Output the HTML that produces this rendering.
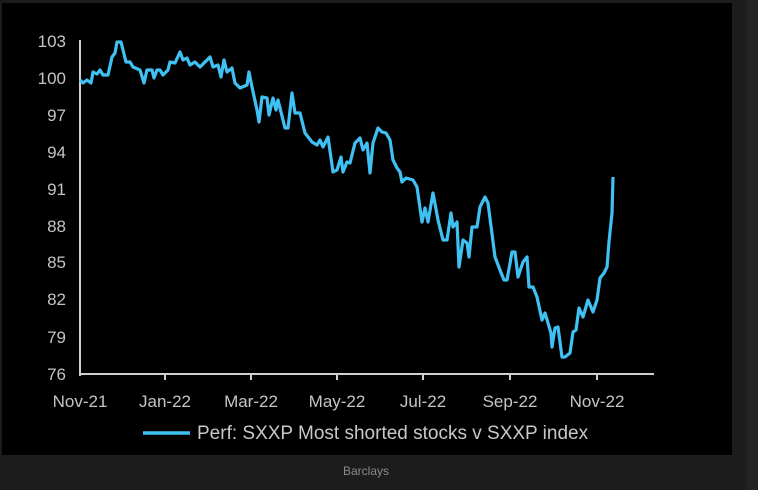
<!DOCTYPE html>
<html><head><meta charset="utf-8"><style>
html,body{margin:0;padding:0;background:#1c1c1c;width:758px;height:490px;overflow:hidden}
svg{display:block}
text{font-family:"Liberation Sans",sans-serif}
</style></head><body>
<svg width="758" height="490" viewBox="0 0 758 490">
<rect x="0" y="0" width="758" height="490" fill="#1c1c1c"/>
<rect x="746" y="0" width="12" height="490" fill="#232323"/>
<rect x="2" y="3" width="730" height="452" fill="#000"/>
<g fill="#c4c4c4" font-size="17" text-anchor="end">
<text x="66" y="47">103</text><text x="66" y="84">100</text><text x="66" y="121">97</text>
<text x="66" y="158">94</text><text x="66" y="195">91</text><text x="66" y="232">88</text>
<text x="66" y="268">85</text><text x="66" y="305">82</text><text x="66" y="343">79</text>
<text x="66" y="380">76</text>
</g>
<line x1="80" y1="40" x2="80" y2="376" stroke="#cfcfcf" stroke-width="2"/>
<line x1="79" y1="374" x2="654" y2="374" stroke="#cfcfcf" stroke-width="2"/>
<g stroke="#cfcfcf" stroke-width="2">
<line x1="165" y1="374" x2="165" y2="380"/><line x1="251" y1="374" x2="251" y2="380"/>
<line x1="337" y1="374" x2="337" y2="380"/><line x1="423" y1="374" x2="423" y2="380"/>
<line x1="510" y1="374" x2="510" y2="380"/><line x1="597" y1="374" x2="597" y2="380"/>
</g>
<g fill="#c4c4c4" font-size="17" text-anchor="middle">
<text x="80" y="407">Nov-21</text><text x="165" y="407">Jan-22</text><text x="251" y="407">Mar-22</text>
<text x="337" y="407">May-22</text><text x="423" y="407">Jul-22</text><text x="510" y="407">Sep-22</text>
<text x="597" y="407">Nov-22</text>
</g>
<polyline fill="none" stroke="#3fc1f3" stroke-width="3.2" stroke-linejoin="round" points="80,80 83,83 87,80 91,83 93,72 97,74 100,70 103,75 108,75 112,57 115,53 117,42 121,42 126,62 130,62 133,67 140,70 144,83 147,70 152,70 154,78 157,70 160,70 163,75 168,70 170,62 175,63 180,52 183,60 187,58 190,65 195,62 200,67 205,62 210,57 213,67 218,65 221,77 224,60 227,72 232,68 235,83 240,88 247,85 249,72 252,87 257,110 259,122 262,97 267,98 269,115 273,98 276,110 278,100 285,128 288,128 292,93 295,113 300,113 305,133 312,142 317,145 320,140 323,147 328,137 333,172 337,170 341,157 343,172 347,162 350,163 355,143 360,138 363,150 367,143 370,173 373,143 378,128 382,132 386,133 390,140 393,160 397,168 400,172 402,182 406,178 413,180 417,187 422,222 425,208 428,222 433,193 438,220 443,240 447,240 451,213 453,227 457,222 459,267 463,240 467,243 469,257 472,227 477,227 480,207 485,197 488,203 495,257 500,270 504,280 507,280 512,252 515,252 518,277 523,262 527,257 529,287 533,287 537,297 542,320 545,313 551,333 552,347 555,328 558,327 562,357 565,357 570,353 573,332 576,330 579,308 583,317 588,300 593,312 597,300 600,278 604,273 607,267 609,242 612,213 613,177"/>
<line x1="143" y1="433" x2="190" y2="433" stroke="#3fc1f3" stroke-width="3.5"/>
<text x="197" y="439" fill="#c8c8c8" font-size="19">Perf: SXXP Most shorted stocks v SXXP index</text>
<text x="366" y="475" fill="#8a8a8a" font-size="12" text-anchor="middle">Barclays</text>
</svg>
</body></html>
